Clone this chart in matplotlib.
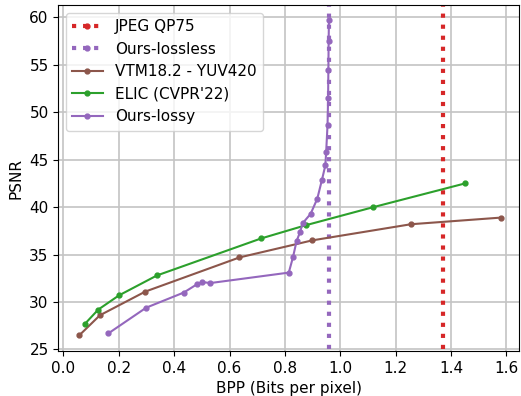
import matplotlib
matplotlib.use('Agg')
import matplotlib.pyplot as plt

plt.rcParams['font.size'] = 11

# Baselines (vertical references)
jpeg_bpp = 1.37
lossless_bpp = 0.96
vline_psnr = [25, 62]

# VTM18.2 - YUV420
vtm_bpp = [0.058, 0.132, 0.296, 0.636, 0.899, 1.255, 1.580]
vtm_psnr = [26.5, 28.6, 31.1, 34.7, 36.5, 38.2, 38.9]

# ELIC (CVPR'22)
elic_bpp = [0.078, 0.126, 0.201, 0.338, 0.714, 0.876, 1.119, 1.450]
elic_psnr = [27.7, 29.2, 30.7, 32.8, 36.7, 38.1, 40.0, 42.5]

# Ours-lossy
lossy_bpp = [0.163, 0.299, 0.435, 0.484, 0.502, 0.531, 0.814, 0.829, 0.842,
             0.855, 0.864, 0.893, 0.917, 0.934, 0.946, 0.949, 0.954, 0.956,
             0.957, 0.958, 0.959]
lossy_psnr = [26.7, 29.4, 31.0, 31.9, 32.1, 32.0, 33.1, 34.7, 36.4,
              37.4, 38.3, 39.3, 40.9, 42.9, 44.4, 45.8, 48.7, 51.5,
              54.5, 57.5, 59.7]

fig, ax = plt.subplots(figsize=(5.21, 3.96), dpi=100)
fig.subplots_adjust(left=0.112, right=0.996, top=0.987, bottom=0.114)

ax.plot([jpeg_bpp, jpeg_bpp], vline_psnr, ':', color='tab:red', lw=3,
        marker='o', ms=3.5, markevery=[], label='JPEG QP75')
ax.plot([lossless_bpp, lossless_bpp], vline_psnr, ':', color='tab:purple', lw=3,
        marker='o', ms=3.5, markevery=[], label='Ours-lossless')
ax.plot(vtm_bpp, vtm_psnr, '-o', color='tab:brown', ms=3.5, lw=1.5,
        label='VTM18.2 - YUV420')
ax.plot(elic_bpp, elic_psnr, '-o', color='tab:green', ms=3.5, lw=1.5,
        label="ELIC (CVPR'22)")
ax.plot(lossy_bpp, lossy_psnr, '-o', color='tab:purple', ms=3.5, lw=1.5,
        label='Ours-lossy')

ax.set_xlim(-0.018, 1.645)
ax.set_ylim(24.85, 61.3)
ax.set_xlabel('BPP (Bits per pixel)')
ax.set_ylabel('PSNR')
ax.grid(True, color='#c4c4c4', lw=1.2)
ax.legend(loc='upper left')

fig.savefig('out.png')
